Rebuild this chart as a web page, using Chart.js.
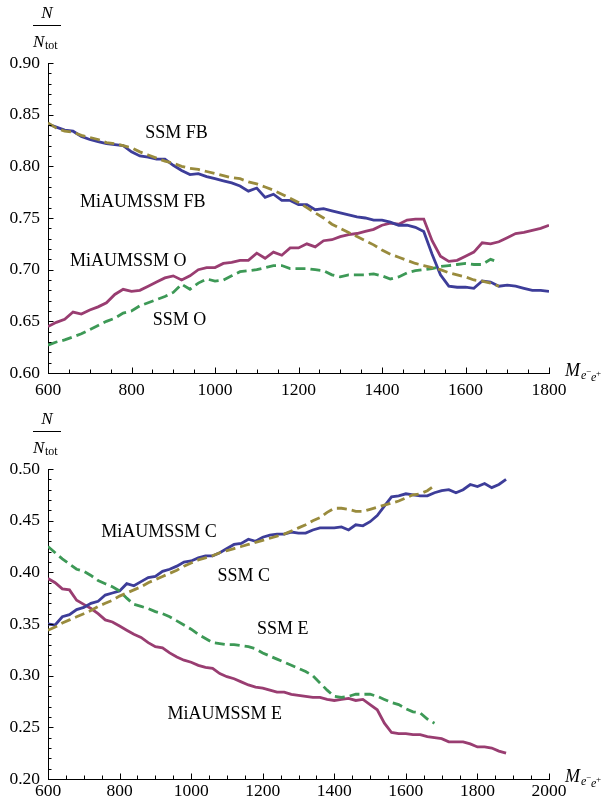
<!DOCTYPE html>
<html>
<head>
<meta charset="utf-8">
<script src="https://cdn.jsdelivr.net/npm/chart.js@4.4.1/dist/chart.umd.min.js"></script>
<style>
  body { margin: 0; background: #fff; }
  canvas { display: block; }
</style>
</head>
<body>
<canvas id="topChart" width="608" height="400"></canvas>
<canvas id="bottomChart" width="608" height="409"></canvas>
<script>
// invariant mass M(e-e+) in GeV, 20 GeV bins
var mass = [600, 620, 640, 660, 680, 700, 720, 740, 760, 780,
            800, 820, 840, 860, 880, 900, 920, 940, 960, 980,
            1000, 1020, 1040, 1060, 1080, 1100, 1120, 1140, 1160, 1180,
            1200, 1220, 1240, 1260, 1280, 1300, 1320, 1340, 1360, 1380,
            1400, 1420, 1440, 1460, 1480, 1500, 1520, 1540, 1560, 1580,
            1600, 1620, 1640, 1660, 1680, 1700, 1720, 1740, 1760, 1780,
            1800, 1820, 1840, 1860, 1880];

// top panel: FB and O fractions
var miaumssmFB = [0.841, 0.838, 0.835, 0.834, 0.829, 0.826, 0.824, 0.822, 0.821, 0.820,
                  0.814, 0.810, 0.809, 0.807, 0.807, 0.801, 0.796, 0.792, 0.793, 0.790,
                  0.788, 0.786, 0.784, 0.781, 0.776, 0.779, 0.770, 0.773, 0.767, 0.767,
                  0.763, 0.763, 0.758, 0.759, 0.757, 0.755, 0.753, 0.751, 0.750, 0.748,
                  0.748, 0.746, 0.743, 0.743, 0.741, 0.737, 0.715, 0.695, 0.684, 0.683,
                  0.683, 0.682, 0.689, 0.688, 0.684, 0.685, 0.684, 0.682, 0.680, 0.680,
                  0.679];
var ssmFB = [0.842, 0.837, 0.834, 0.833, 0.830, 0.828, 0.826, 0.823, 0.822, 0.820,
             0.818, 0.814, 0.811, 0.808, 0.805, 0.803, 0.800, 0.798, 0.797, 0.795,
             0.793, 0.791, 0.789, 0.788, 0.785, 0.783, 0.780, 0.777, 0.773, 0.769,
             0.765, 0.760, 0.755, 0.750, 0.744, 0.740, 0.736, 0.732, 0.728, 0.724,
             0.719, 0.715, 0.712, 0.709, 0.706, 0.704, 0.702, 0.700, 0.697, 0.695,
             0.693, 0.690, 0.689, 0.687, 0.684];
var miaumssmO = [0.645, 0.649, 0.652, 0.659, 0.657, 0.661, 0.664, 0.668, 0.676, 0.681,
                 0.679, 0.680, 0.684, 0.688, 0.692, 0.694, 0.690, 0.694, 0.700, 0.702,
                 0.702, 0.706, 0.707, 0.709, 0.709, 0.716, 0.711, 0.717, 0.714, 0.721,
                 0.721, 0.725, 0.722, 0.728, 0.729, 0.732, 0.734, 0.735, 0.737, 0.739,
                 0.743, 0.745, 0.744, 0.748, 0.749, 0.749, 0.728, 0.713, 0.708, 0.709,
                 0.713, 0.717, 0.726, 0.725, 0.727, 0.731, 0.735, 0.736, 0.738, 0.740,
                 0.743];
var ssmO = [0.627, 0.630, 0.632, 0.635, 0.638, 0.642, 0.646, 0.650, 0.653, 0.658,
            0.660, 0.665, 0.668, 0.671, 0.674, 0.678, 0.686, 0.681, 0.687, 0.691,
            0.689, 0.690, 0.694, 0.698, 0.699, 0.700, 0.702, 0.704, 0.704, 0.701,
            0.701, 0.701, 0.700, 0.699, 0.695, 0.693, 0.695, 0.695, 0.695, 0.696,
            0.694, 0.691, 0.693, 0.697, 0.699, 0.700, 0.701, 0.703, 0.704, 0.705,
            0.706, 0.705, 0.705, 0.710, 0.707];

// bottom panel: C and E fractions
var miaumssmC = [0.350, 0.349, 0.357, 0.359, 0.364, 0.366, 0.370, 0.372, 0.378, 0.380,
                 0.382, 0.389, 0.387, 0.391, 0.395, 0.396, 0.401, 0.403, 0.406, 0.410,
                 0.411, 0.414, 0.416, 0.416, 0.419, 0.423, 0.427, 0.428, 0.432, 0.430,
                 0.434, 0.436, 0.437, 0.437, 0.439, 0.438, 0.438, 0.441, 0.443, 0.443,
                 0.443, 0.444, 0.441, 0.446, 0.445, 0.449, 0.455, 0.464, 0.473, 0.474,
                 0.476, 0.475, 0.474, 0.474, 0.477, 0.479, 0.480, 0.477, 0.480, 0.485,
                 0.483, 0.486, 0.482, 0.485, 0.490];
var ssmC = [0.344, 0.347, 0.351, 0.354, 0.357, 0.360, 0.363, 0.367, 0.370, 0.373,
            0.377, 0.380, 0.383, 0.386, 0.390, 0.393, 0.396, 0.399, 0.402, 0.406,
            0.409, 0.412, 0.414, 0.416, 0.419, 0.421, 0.423, 0.425, 0.427, 0.429,
            0.431, 0.433, 0.435, 0.437, 0.440, 0.443, 0.446, 0.450, 0.453, 0.458,
            0.462, 0.462, 0.461, 0.459, 0.459, 0.461, 0.463, 0.465, 0.467, 0.469,
            0.472, 0.475, 0.476, 0.479, 0.484];
var ssmE = [0.425, 0.419, 0.413, 0.408, 0.403, 0.401, 0.397, 0.392, 0.389, 0.386,
            0.382, 0.375, 0.369, 0.367, 0.365, 0.362, 0.360, 0.357, 0.353, 0.349,
            0.345, 0.340, 0.336, 0.332, 0.331, 0.330, 0.330, 0.329, 0.328, 0.326,
            0.322, 0.319, 0.316, 0.313, 0.310, 0.307, 0.304, 0.300, 0.293, 0.286,
            0.280, 0.279, 0.280, 0.282, 0.282, 0.282, 0.280, 0.277, 0.274, 0.272,
            0.268, 0.265, 0.264, 0.258, 0.254];
var miaumssmE = [0.394, 0.390, 0.384, 0.383, 0.373, 0.369, 0.365, 0.360, 0.354, 0.352,
                 0.348, 0.344, 0.340, 0.337, 0.332, 0.328, 0.327, 0.322, 0.318, 0.315,
                 0.313, 0.310, 0.308, 0.307, 0.302, 0.299, 0.297, 0.294, 0.291, 0.289,
                 0.288, 0.286, 0.284, 0.284, 0.282, 0.281, 0.280, 0.279, 0.279, 0.277,
                 0.276, 0.277, 0.278, 0.276, 0.277, 0.272, 0.267, 0.254, 0.245, 0.244,
                 0.244, 0.243, 0.243, 0.241, 0.240, 0.239, 0.236, 0.236, 0.236, 0.234,
                 0.231, 0.231, 0.230, 0.227, 0.225];

// curve labels, placed in data coordinates
var notesTop = ['SSM FB', 'MiAUMSSM FB', 'MiAUMSSM O', 'SSM O'];
var notesTopX = [908, 827, 792, 915];
var notesTopY = [0.832, 0.765, 0.708, 0.651];
var notesBottom = ['MiAUMSSM C', 'SSM C', 'SSM E', 'MiAUMSSM E'];
var notesBottomX = [910, 1147, 1256, 1094];
var notesBottomY = [0.4386, 0.3966, 0.345, 0.263];

var BLUE = '#3d3d99', MAGENTA = '#993d71', KHAKI = '#998b3d', GREEN = '#3d9956';
var SERIF = '"Liberation Serif", "DejaVu Serif", serif';

function toPoints(values) {
    return values.map(function(v, i) { return {x: mass[i], y: v}; });
}

function solid(values, color) {
    return { data: toPoints(values), borderColor: color, borderWidth: 2.8, fill: false };
}

function dashed(values, color) {
    return { data: toPoints(values), borderColor: color, borderWidth: 2.8, borderDash: [10, 5], fill: false };
}

// inward Mathematica-style ticks, axis titles and curve labels
var axisDecor = {
    id: 'axisDecor',
    afterDraw: function(chart, args, opts) {
        var ctx = chart.ctx, xs = chart.scales.x, ys = chart.scales.y, area = chart.chartArea;
        ctx.save();
        ctx.strokeStyle = '#000';
        ctx.lineWidth = 1;
        ctx.beginPath();
        var nx = Math.round((xs.max - xs.min) / 50);
        for (var k = 0; k <= nx; k++) {
            var px = Math.round(xs.getPixelForValue(xs.min + k * 50)) + 0.5;
            var len = (k % 4 === 0) ? 5.5 : 3.5;
            ctx.moveTo(px, area.bottom);
            ctx.lineTo(px, area.bottom - len);
        }
        var ny = Math.round((ys.max - ys.min) / 0.01);
        for (var j = 0; j <= ny; j++) {
            var py = Math.round(ys.getPixelForValue(ys.min + j * 0.01)) + 0.5;
            var ylen = (j % 5 === 0) ? 5.5 : 3.5;
            ctx.moveTo(area.left, py);
            ctx.lineTo(area.left + ylen, py);
        }
        ctx.stroke();

        // y title: N / N_tot
        var cx = area.left - 1;
        ctx.fillStyle = '#000';
        ctx.textBaseline = 'alphabetic';
        ctx.textAlign = 'center';
        ctx.font = 'italic 17px ' + SERIF;
        ctx.fillText('N', cx, area.top - 45);
        ctx.fillRect(cx - 14, area.top - 38, 28, 1);
        ctx.textAlign = 'left';
        ctx.fillText('N', cx - 14, area.top - 16);
        ctx.font = '12px ' + SERIF;
        ctx.fillText('tot', cx - 2, area.top - 14);

        // x title: M_{e- e+}
        var mx = area.right + 16, my = area.bottom + 3;
        ctx.font = 'italic 18px ' + SERIF;
        ctx.fillText('M', mx, my);
        ctx.font = 'italic 12px ' + SERIF;
        ctx.fillText('e', mx + 16, my + 3);
        ctx.font = '9px ' + SERIF;
        ctx.fillText('\u2212', mx + 21, my - 2);
        ctx.font = 'italic 12px ' + SERIF;
        ctx.fillText('e', mx + 26, my + 5);
        ctx.font = '9px ' + SERIF;
        ctx.fillText('+', mx + 31, my);

        // curve labels
        ctx.font = '18px ' + SERIF;
        ctx.textAlign = 'center';
        ctx.textBaseline = 'middle';
        for (var n = 0; n < opts.texts.length; n++) {
            ctx.fillText(opts.texts[n], xs.getPixelForValue(opts.xs[n]), ys.getPixelForValue(opts.ys[n]));
        }
        ctx.restore();
    }
};

function makeOptions(cfg) {
    var tickFont = { family: SERIF, size: 17.5 };
    return {
        responsive: false,
        animation: false,
        layout: { padding: { left: 0, right: 59, top: cfg.top, bottom: 0 } },
        elements: { point: { radius: 0 }, line: { tension: 0 } },
        plugins: {
            legend: { display: false },
            tooltip: { enabled: false },
            axisDecor: { texts: cfg.texts, xs: cfg.xs, ys: cfg.ys }
        },
        scales: {
            x: {
                type: 'linear',
                min: cfg.xmin, max: cfg.xmax,
                grid: { display: false, drawTicks: false },
                border: { color: '#000', width: 1 },
                ticks: { stepSize: 200, padding: cfg.xpad, color: '#000', font: tickFont, maxRotation: 0, autoSkip: false,
                         callback: function(v) { return String(v); } },
                afterFit: function(s) { s.height = cfg.xh; }
            },
            y: {
                min: cfg.ymin, max: cfg.ymax,
                grid: { display: false, drawTicks: false },
                border: { color: '#000', width: 1 },
                ticks: { stepSize: 0.05, padding: 8, color: '#000', font: tickFont,
                         callback: function(v) { return v.toFixed(2); } },
                afterFit: function(s) { s.width = 48; }
            }
        }
    };
}

new Chart(document.getElementById('topChart'), {
    type: 'line',
    data: {
        datasets: [
            dashed(ssmFB, KHAKI),
            dashed(ssmO, GREEN),
            solid(miaumssmFB, BLUE),
            solid(miaumssmO, MAGENTA)
        ]
    },
    options: makeOptions({ top: 63, xh: 27, xpad: 7, xmin: 600, xmax: 1800, ymin: 0.60, ymax: 0.90,
                           texts: notesTop, xs: notesTopX, ys: notesTopY }),
    plugins: [axisDecor]
});

new Chart(document.getElementById('bottomChart'), {
    type: 'line',
    data: {
        datasets: [
            dashed(ssmC, KHAKI),
            dashed(ssmE, GREEN),
            solid(miaumssmC, BLUE),
            solid(miaumssmE, MAGENTA)
        ]
    },
    options: makeOptions({ top: 69, xh: 30, xpad: 2, xmin: 600, xmax: 2000, ymin: 0.20, ymax: 0.50,
                           texts: notesBottom, xs: notesBottomX, ys: notesBottomY }),
    plugins: [axisDecor]
});
</script>
</body>
</html>
